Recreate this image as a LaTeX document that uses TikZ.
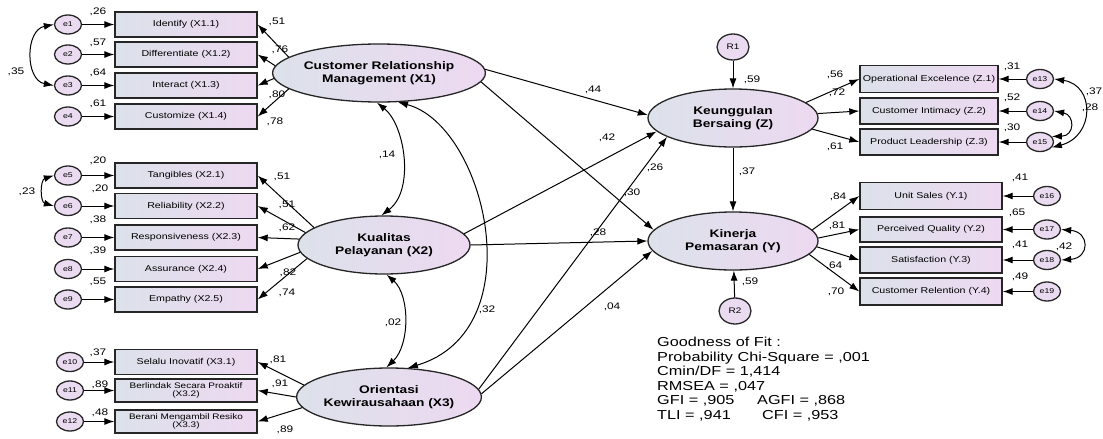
\documentclass[tikz,border=0pt]{standalone}
\usepackage{fontspec}
\setmainfont{Liberation Sans}[FakeStretch=1.25]
\usetikzlibrary{arrows.meta,shapes.geometric}
\definecolor{boxL}{HTML}{DCE1EA}
\definecolor{boxR}{HTML}{EDD9F1}
\definecolor{errF}{HTML}{EADBF1}
\tikzset{
 ind/.style={draw=black!85, line width=1.4pt, left color=boxL, right color=boxR, minimum width=142pt, minimum height=25pt, inner sep=0pt, font=\fontsize{8.5}{9}\selectfont, align=center},
 indtwo/.style={ind, minimum height=23pt, font=\fontsize{8}{8.5}\selectfont},
 err/.style={ellipse, draw=black!85, line width=1.3pt, fill=errF, minimum width=27pt, minimum height=19pt, inner sep=0pt, font=\fontsize{7}{8}\selectfont},
 res/.style={err, minimum width=32pt, minimum height=26pt, font=\fontsize{8}{9}\selectfont},
 lat/.style={ellipse, draw=black!85, line width=1.3pt, left color=boxL, right color=boxR, minimum width=172pt, minimum height=58pt, inner sep=0pt, font=\fontsize{11}{13}\selectfont\bfseries, align=center},
 arr/.style={-{Latex[length=10pt,width=7pt]}, line width=1pt},
 darr/.style={{Latex[length=10pt,width=7pt]}-{Latex[length=10pt,width=7pt]}, line width=1pt},
 num/.style={font=\fontsize{9.5}{10}\selectfont, inner sep=0pt},
 fit/.style={font=\fontsize{13}{14}\selectfont, inner sep=0pt, anchor=base west},
}
\begin{document}
\begin{tikzpicture}[x=1pt,y=-1pt]
\fill[white] (0,0) rectangle (1103,439);
\path[use as bounding box] (0,0) rectangle (1103,439);

% ---- indicators X1
\node[ind] (x11) at (186,24.5) {Identify (X1.1)};
\node[ind] (x12) at (186,54.5) {Differentiate (X1.2)};
\node[ind] (x13) at (186,85.5) {Interact (X1.3)};
\node[ind] (x14) at (186,116.5) {Customize (X1.4)};
% ---- indicators X2
\node[ind] (x21) at (186,175.5) {Tangibles (X2.1)};
\node[ind] (x22) at (186,206) {Reliability (X2.2)};
\node[ind] (x23) at (186,237.5) {Responsiveness (X2.3)};
\node[ind] (x24) at (186,269) {Assurance (X2.4)};
\node[ind] (x25) at (186,299.5) {Empathy (X2.5)};
% ---- indicators X3
\node[ind] (x31) at (186,362) {Selalu Inovatif (X3.1)};
\node[indtwo] (x32) at (186,390.5) {Berlindak Secara Proaktif\\(X3.2)};
\node[indtwo] (x33) at (186,421.5) {Berani Mengambil Resiko\\(X3.3)};

% ---- errors left
\node[err] (e1) at (68,24.5) {e1};
\node[err] (e2) at (68,54.5) {e2};
\node[err] (e3) at (68,85.5) {e3};
\node[err] (e4) at (68,116.5) {e4};
\node[err] (e5) at (68,175.5) {e5};
\node[err] (e6) at (68,206) {e6};
\node[err] (e7) at (68,237.5) {e7};
\node[err] (e8) at (68,269) {e8};
\node[err] (e9) at (68,299.5) {e9};
\node[err] (e10) at (70,362) {e10};
\node[err] (e11) at (70,390.5) {e11};
\node[err] (e12) at (70,421.5) {e12};

\foreach \e/\b in {e1/x11,e2/x12,e3/x13,e4/x14,e5/x21,e6/x22,e7/x23,e8/x24,e9/x25,e10/x31,e11/x32,e12/x33}
  \draw[arr] (\e) -- (\b);

% ---- latents
\node[lat] (X1) at (379,73) {Customer Relationship\\Management (X1)};
\node[lat] (X2) at (384,245) {Kualitas\\Pelayanan (X2)};
\node[lat] (X3) at (389,397) {Orientasi\\Kewirausahaan (X3)};
\node[lat, minimum width=170pt] (Z) at (733,118) {Keunggulan\\Bersaing (Z)};
\node[lat, minimum width=170pt] (Y) at (733,241) {Kinerja\\Pemasaran (Y)};
\node[res] (R1) at (733,47) {R1};
\node[res] (R2) at (735,311) {R2};

% ---- loadings
\draw[arr] (X1.170) -- (x11.east);
\draw[arr] (X1.176) -- (x12.east);
\draw[arr] (X1.183) -- (x13.east);
\draw[arr] (X1.190) -- (x14.east);
\draw[arr] (X2.166) -- (x21.east);
\draw[arr] (X2.171) -- (x22.east);
\draw[arr] (X2.176) -- (x23.east);
\draw[arr] (X2.185) -- (x24.east);
\draw[arr] (X2.190) -- (x25.east);
\draw[arr] (X3.172) -- (x31.east);
\draw[arr] (X3.180) -- (x32.east);
\draw[arr] (X3.187) -- (x33.east);

% ---- structural paths
\draw[arr] (X1.2) -- (Z.178);
\draw[arr] (X1.-5) -- (Y.172);
\draw[arr] (X2.8) -- (Z.190);
\draw[arr] (X2.east) -- (Y.west);
\draw[arr] (X3.5) -- (Z.196);
\draw[arr] (X3.2) -- (Y.187);
\draw[arr] (Z.south) -- (Y.north);
\draw[arr] (R1) -- (Z);
\draw[arr] (R2) -- (Y);

% ---- covariances
\draw[darr] (X1.-94) .. controls (405,125) and (415,190) .. (X2.95);
\draw[darr] (X1.-57) .. controls (485,125) and (535,330) .. (X3.57);
\draw[darr] (X2.-85) .. controls (410,295) and (410,345) .. (X3.95);
\draw[darr] (e1.west) .. controls (25,30) and (25,80) .. (e3.west);
\draw[darr] (e5.west) .. controls (40,180) and (40,202) .. (e6.west);

% ---- right indicators Z
\node[ind, minimum width=138pt, minimum height=27pt] (z1) at (929,79) {Operational Excelence (Z.1)};
\node[ind, minimum width=138pt, minimum height=26pt] (z2) at (929,111) {Customer Intimacy (Z.2)};
\node[ind, minimum width=138pt, minimum height=26pt] (z3) at (929,142) {Product Leadership (Z.3)};
\node[err] (e13) at (1040,79) {e13};
\node[err] (e14) at (1040,111) {e14};
\node[err] (e15) at (1040,142) {e15};
% ---- right indicators Y
\node[ind, minimum height=27pt] (y1) at (931,196) {Unit Sales (Y.1)};
\node[ind] (y2) at (931,229.5) {Perceived Quality (Y.2)};
\node[ind, minimum height=26pt] (y3) at (931,260) {Satisfaction (Y.3)};
\node[ind, minimum height=27pt] (y4) at (931,291.5) {Customer Relention (Y.4)};
\node[err] (e16) at (1047,196) {e16};
\node[err] (e17) at (1047,229.5) {e17};
\node[err] (e18) at (1047,260) {e18};
\node[err] (e19) at (1047,291.5) {e19};

\foreach \e/\b in {e13/z1,e14/z2,e15/z3,e16/y1,e17/y2,e18/y3,e19/y4}
  \draw[arr] (\e) -- (\b);

\draw[arr] (Z.12) -- (z1.west);
\draw[arr] (Z.3) -- (z2.west);
\draw[arr] (Z.-8) -- (z3.west);
\draw[arr] (Y.8) -- (y1.west);
\draw[arr] (Y.2) -- (y2.west);
\draw[arr] (Y.-4) -- (y3.west);
\draw[arr] (Y.-10) -- (y4.west);

\draw[darr] (e13.east) .. controls (1095,85) and (1095,136) .. (e15.-25);
\draw[darr] (e14.east) .. controls (1075,115) and (1075,136) .. (e15.25);
\draw[darr] (e17.east) .. controls (1090,232) and (1090,258) .. (e18.east);

% ---- numbers: left errors
\node[num] (n1) at (98,12) {,26};
\node[num] (n2) at (98,43) {,57};
\node[num] (n3) at (98,73) {,64};
\node[num] (n4) at (98,104) {,61};
\node[num] (n5) at (98,161) {,20};
\node[num] (n6) at (100,189) {,20};
\node[num] (n7) at (98,220) {,38};
\node[num] (n8) at (98,251) {,39};
\node[num] (n9) at (98,282) {,55};
\node[num] (n10) at (98,353) {,37};
\node[num] (n11) at (100,385) {,89};
\node[num] (n12) at (100,413) {,48};
\node[num] (n13) at (16,72) {,35};
\node[num] (n14) at (27,192) {,23};
% loadings left
\node[num] (l1) at (277,22) {,51};
\node[num] (l2) at (280,50) {,76};
\node[num] (l3) at (277,95) {,80};
\node[num] (l4) at (275,122) {,78};
\node[num] (l5) at (282,177) {,51};
\node[num] (l6) at (287,205) {,51};
\node[num] (l7) at (287,228) {,62};
\node[num] (l8) at (288,273) {,82};
\node[num] (l9) at (287,293) {,74};
\node[num] (l10) at (278,360) {,81};
\node[num] (l11) at (280,384) {,91};
\node[num] (l12) at (285,430) {,89};
% structural
\node[num] (p1) at (593,90) {,44};
\node[num] (p2) at (607,138) {,42};
\node[num] (p3) at (655,168) {,26};
\node[num] (p4) at (632,193) {,30};
\node[num] (p5) at (598,233) {,28};
\node[num] (p6) at (612,307) {,04};
\node[num] (p7) at (487,310) {,32};
\node[num] (p8) at (387,155) {,14};
\node[num] (p9) at (393,323) {,02};
\node[num] (p10) at (747,172) {,37};
\node[num] (p11) at (752,80) {,59};
\node[num] (p12) at (750,282) {,59};
% right
\node[num] (r1) at (835,75) {,56};
\node[num] (r2) at (837,93) {,72};
\node[num] (r3) at (835,147) {,61};
\node[num] (r4) at (1012,67) {,31};
\node[num] (r5) at (1012,98) {,52};
\node[num] (r6) at (1012,128) {,30};
\node[num] (r7) at (1094,92) {,37};
\node[num] (r8) at (1090,108) {,28};
\node[num] (r9) at (838,197) {,84};
\node[num] (r10) at (837,226) {,81};
\node[num] (r11) at (834,266) {,64};
\node[num] (r12) at (836,292) {,70};
\node[num] (r13) at (1020,178) {,41};
\node[num] (r14) at (1017,213) {,65};
\node[num] (r15) at (1020,245) {,41};
\node[num] (r16) at (1020,277) {,49};
\node[num] (r17) at (1064,247) {,42};

% ---- fit
\node[fit] (g1) at (657,346.5) {Goodness of Fit :};
\node[fit] (g2) at (657,361) {Probability Chi-Square = ,001};
\node[fit] (g3) at (657,375.5) {Cmin/DF = 1,414};
\node[fit] (g4) at (657,390) {RMSEA = ,047};
\node[fit] (g5) at (657,404.5) {GFI = ,905};
\node[fit] (g6) at (757,404.5) {AGFI = ,868};
\node[fit] (g7) at (657,419) {TLI = ,941};
\node[fit] (g8) at (762,419) {CFI = ,953};
\end{tikzpicture}
\end{document}
